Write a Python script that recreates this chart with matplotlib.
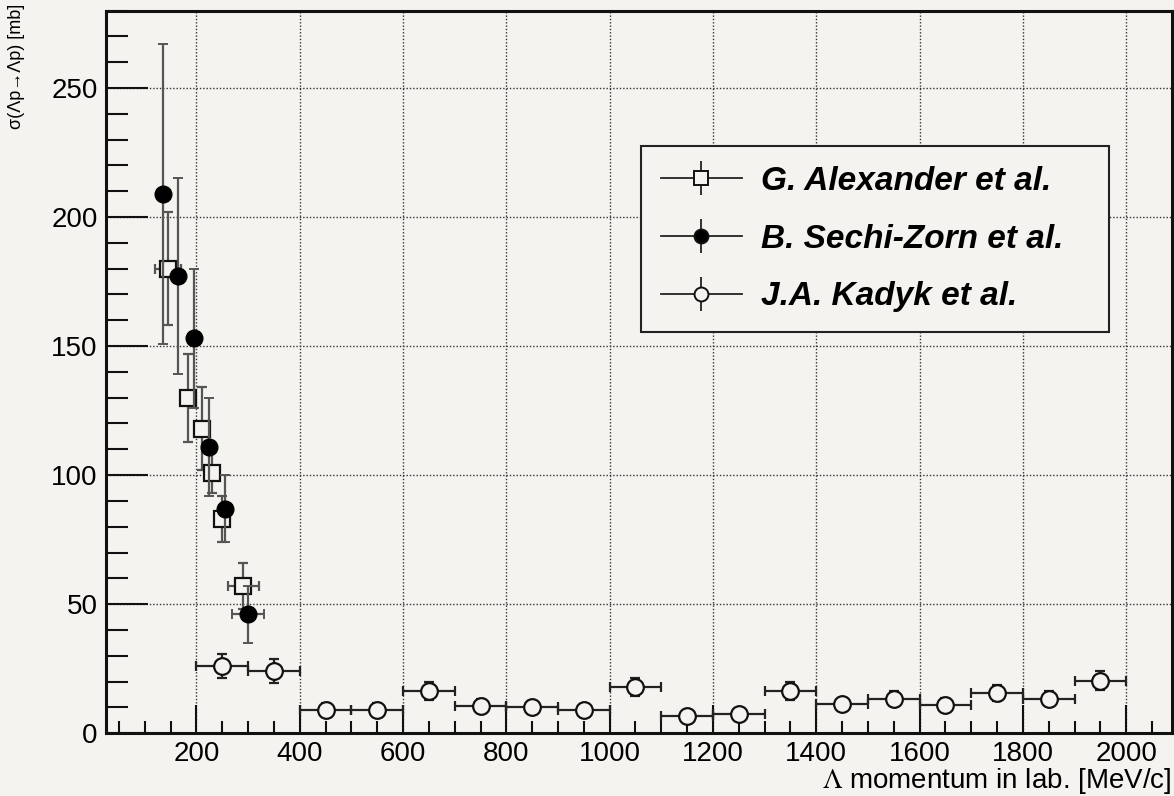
"""Lambda-p elastic cross section vs. lab momentum (three experiments)."""
import numpy as np
import matplotlib
matplotlib.use("Agg")
import matplotlib.pyplot as plt
from matplotlib.lines import Line2D
from matplotlib.ticker import MultipleLocator

# G. Alexander et al.
alex_p = [145, 184, 211, 231, 249, 291]
alex_sig = [180, 130, 118, 101, 83, 57]
alex_dsig = [22, 17, 16, 8, 9, 9]
alex_dp = [25, 0, 0, 0, 0, 30]

# B. Sechi-Zorn et al.
sz_p = [136, 165, 196, 225, 256, 300]
sz_sig = [209, 177, 153, 111, 87, 46]
sz_dsig = [58, 38, 27, 19, 13, 11]
sz_dp = [0, 0, 0, 0, 0, 31]

# J.A. Kadyk et al. (100 MeV/c bins)
kad_p = [250, 350, 450, 550, 650, 750, 850, 950, 1050, 1150,
         1250, 1350, 1450, 1550, 1650, 1750, 1850, 1950]
kad_dp = [50] * len(kad_p)
kad_sig = [26, 24, 9, 9, 16.5, 10.6, 10, 8.8, 18, 6.5,
           7.4, 16.5, 11.3, 13.4, 11, 15.5, 13.4, 20.3]
kad_dsig = [4.6, 4.6, 2.5, 2.5, 3.5, 2.5, 2.5, 2.5, 3.5, 2.5,
            2.5, 3.5, 2.5, 3, 2.5, 3.2, 3, 3.6]

labels = ["G. Alexander et al.", "B. Sechi-Zorn et al.", "J.A. Kadyk et al."]

BG = "#f5f3ef"
plt.rcParams["font.family"] = ["Liberation Sans", "DejaVu Sans"]
plt.rcParams["mathtext.fontset"] = "stix"

fig = plt.figure(figsize=(11.74, 7.96), dpi=100, facecolor=BG)
ax = fig.add_axes([0.0903, 0.079, 0.9077, 0.9076], facecolor=BG)

eb_kw = dict(linestyle="none", elinewidth=1.6, capthick=1.4, capsize=3.5)
ax.errorbar(alex_p, alex_sig, yerr=alex_dsig, xerr=alex_dp, marker="s",
            ms=12, mfc=BG, mec="#111111", mew=1.6, ecolor="#555555",
            zorder=4, **eb_kw)
ax.errorbar(sz_p, sz_sig, yerr=sz_dsig, xerr=sz_dp, marker="o",
            ms=12, mfc="black", mec="black", ecolor="#555555",
            zorder=5, **eb_kw)
ax.errorbar(kad_p, kad_sig, yerr=kad_dsig, xerr=kad_dp, marker="o",
            ms=12, mfc=BG, mec="#111111", mew=1.6, ecolor="#222222",
            zorder=4, **eb_kw)

ax.set_xlim(25, 2088)
ax.set_ylim(0, 280)
ax.xaxis.set_major_locator(MultipleLocator(200))
ax.xaxis.set_minor_locator(MultipleLocator(50))
ax.yaxis.set_major_locator(MultipleLocator(50))
ax.yaxis.set_minor_locator(MultipleLocator(10))
ax.tick_params(which="both", direction="in", width=1.5, labelsize=20, color="#111111")
ax.tick_params(axis="x", which="major", length=20, pad=6)
ax.tick_params(axis="x", which="minor", length=9)
ax.tick_params(axis="y", which="major", length=30, pad=6)
ax.tick_params(axis="y", which="minor", length=16)
xt = np.arange(200, 2001, 200)
ax.set_xticks(xt)
ax.set_xticklabels([str(v) for v in xt])
ax.grid(True, which="major", linestyle=(0, (1, 1.4)), color="#333333", linewidth=1.0)
for s in ax.spines.values():
    s.set_linewidth(2.2)
    s.set_color("#111111")

fig.text(1172 / 1174, 8 / 796, r"$\Lambda$ momentum in lab. [MeV/c]",
         ha="right", va="baseline", fontsize=20)
fig.text(0.014, 0.995, "\u03c3(\u039bp\u2192\u039bp) [mb]", rotation=90,
         ha="center", va="top", fontsize=13)

# legend entries: marker on a horizontal line crossed by a vertical bar
def entry(marker, face):
    bar = Line2D([], [], ls="none", marker="|", ms=25, mew=1.3, color="#222222")
    mk = Line2D([], [], color="#222222", lw=1.3, marker=marker, ms=10,
                mfc=face, mec="#111111", mew=1.4)
    return (bar, mk)

handles = [entry("s", BG), entry("o", "black"), entry("o", BG)]
leg = ax.legend(handles, labels, loc="upper left",
                bbox_to_anchor=(0.5016, 0.40, 0.4394, 0.4127), mode="expand",
                borderaxespad=0,
                prop=dict(size=24, weight="bold", style="italic"),
                handlelength=2.45, handletextpad=0.55,
                labelspacing=0.8, borderpad=0.6, fancybox=False,
                edgecolor="#222222", facecolor=BG, framealpha=1)
leg.get_frame().set_linewidth(1.5)

fig.savefig("out.png", dpi=100, facecolor=BG)
